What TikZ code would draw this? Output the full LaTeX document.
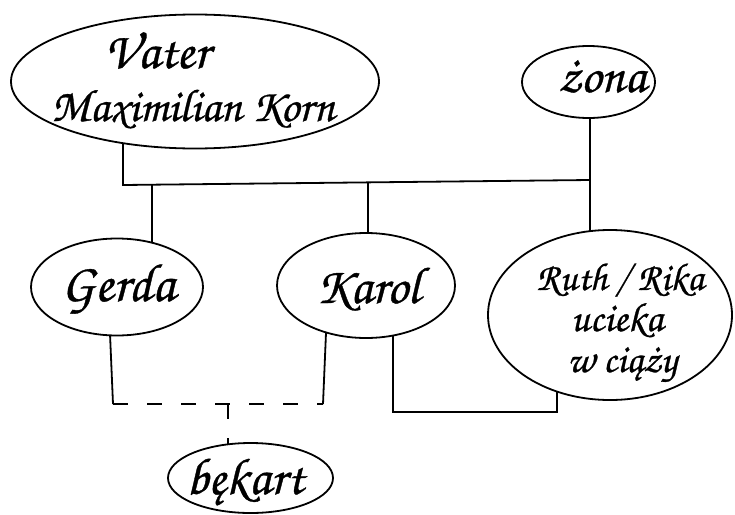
\documentclass[tikz,border=0pt]{standalone}
\usepackage{fontspec}
\setmainfont{TeX Gyre Chorus}[FakeBold=0.7]
\usetikzlibrary{shapes.geometric,calc,backgrounds}
\newcommand{\handsize}[1]{\fontsize{#1}{#1}\selectfont}
\tikzset{
  person/.style={ellipse, draw, line width=1.8pt, fill=white, inner sep=0pt},
  handtext/.style={anchor=base, inner sep=0pt, font=\bfseries\handsize{44}},
  tie/.style={line width=1.8pt},
  affair/.style={line width=1.8pt, dash pattern=on 15pt off 19pt},
}
\begin{document}
\begin{tikzpicture}[x=1pt,y=-1pt]
\useasboundingbox (0,0) rectangle (735,514);
% people
\node[person, minimum width=368pt, minimum height=134pt] (vater) at (195,81.5) {};
\node[person, minimum width=133pt, minimum height=72pt] (zona) at (588.5,82) {};
\node[person, minimum width=172pt, minimum height=97pt] (gerda) at (117,287) {};
\node[person, minimum width=178pt, minimum height=105pt] (karol) at (366,285.5) {};
\node[person, minimum width=244pt, minimum height=170pt] (ruth) at (610,315) {};
\node[person, minimum width=165pt, minimum height=70pt] (bekart) at (250.5,478) {};
% names
\node[handtext, font=\bfseries\handsize{52}] (tVater) at (157,68) {Vater};
\node[handtext, font=\bfseries\handsize{46}] (tMax) at (193,121) {Maximilian Korn};
\node[handtext, font=\bfseries\handsize{51}] (tZona) at (602,92) {żona};
\node[handtext, font=\bfseries\handsize{54}] (tGerda) at (118,301) {Gerda};
\node[handtext, font=\bfseries\handsize{52}] (tKarol) at (368,303) {Karol};
\node[handtext, font=\bfseries\handsize{39}] (tRuth) at (620,290) {Ruth / Rika};
\node[handtext, font=\bfseries\handsize{41}] (tUcieka) at (617,331) {ucieka};
\node[handtext, font=\bfseries\handsize{40}] (tCiazy) at (622,372) {w ciąży};
\node[handtext, font=\bfseries\handsize{52}] (tBekart) at (245,494) {bękart};
% junction points
\coordinate (busL) at (123,185);
\coordinate (busG) at (152,184.7);
\coordinate (busK) at (368,182.4);
\coordinate (busR) at (590,180);
\coordinate (gX) at (108,0);
\coordinate (kX) at (328,0);
\coordinate (gLow) at (113,404);
\coordinate (kLow) at (323,404);
\coordinate (bLink) at (228,404);
\coordinate (kR1) at (393,412);
\coordinate (kR2) at (557,412);
\begin{scope}[on background layer]
  % parents and their children
  \draw[tie] (vater.center -| busL) -- (busL) -- (busR) -- (zona.center -| busR);
  \draw[tie] (busG) -- (gerda.center -| busG);
  \draw[tie] (busK) -- (karol.center -| busK);
  \draw[tie] (busR) -- (ruth.center -| busR);
  % Gerda and Karol
  \draw[tie] (gerda.center -| gX) -- (gLow);
  \draw[tie] (karol.center -| kX) -- (kLow);
  \draw[affair] (gLow) -- (kLow);
  \draw[affair] (bLink) -- (bekart.center -| bLink);
  % Karol and Ruth
  \draw[tie] (karol.center -| kR1) -- (kR1) -- (kR2) -- (ruth.center -| kR2);
\end{scope}
\end{tikzpicture}
\end{document}
